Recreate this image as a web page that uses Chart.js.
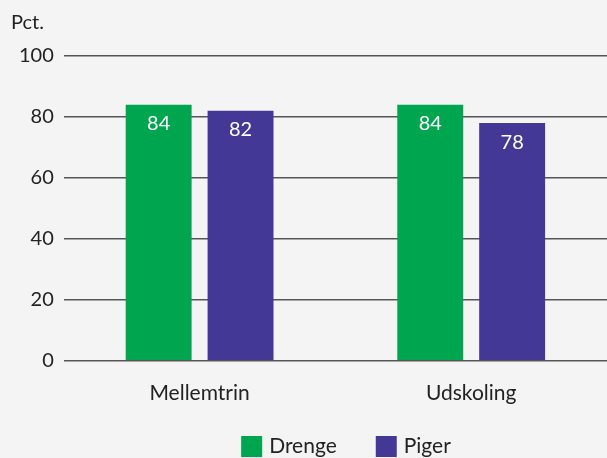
<!DOCTYPE html>
<html>
<head>
<meta charset="utf-8">
<script src="https://cdn.jsdelivr.net/npm/chart.js@4"></script>
<style>
  html, body { margin: 0; padding: 0; background: #f4f4f4; }
  #wrap { width: 607px; height: 458px; }
</style>
</head>
<body>
<div id="wrap"><canvas id="graf"></canvas></div>
<script>
const kategorier = ["Mellemtrin", "Udskoling"];
const drenge = [84, 84];
const piger = [82, 78];
const yTicks = [0, 20, 40, 60, 80, 100];

// labels inde i toppen af søjlerne, "Pct." oppe i hjørnet og signaturforklaring forneden
const etiketter = {
    id: "etiketter",
    afterDatasetsDraw(chart) {
        const c = chart.ctx;
        c.save();
        c.font = "20px Lato";
        c.fillStyle = "#ffffff";
        c.textAlign = "center";
        c.textBaseline = "middle";
        chart.data.datasets.forEach((ds, i) => {
            chart.getDatasetMeta(i).data.forEach((bar, j) => {
                c.fillText(ds.data[j], bar.x, bar.y + 19);
            });
        });
        c.fillStyle = "#222222";
        c.textAlign = "left";
        c.fillText("Pct.", 11, 23);

        // legend
        c.font = "21px Lato";
        const gap = 39, boks = 21;
        let bredde = 0;
        chart.data.datasets.forEach((ds, i) => {
            bredde += boks + 7 + c.measureText(ds.label).width + (i > 0 ? gap : 0);
        });
        let x = 346 - bredde / 2;
        const y = chart.height - 22;
        chart.data.datasets.forEach(ds => {
            c.fillStyle = ds.backgroundColor;
            c.fillRect(x, y, boks, boks);
            c.fillStyle = "#222222";
            c.fillText(ds.label, x + boks + 7, y + boks / 2);
            x += boks + 7 + c.measureText(ds.label).width + gap;
        });
        c.restore();
    }
};

const ctx = document.getElementById("graf").getContext("2d");
const graf = new Chart(ctx, {
    type: "bar",
    data: {
        labels: kategorier,
        datasets: [{
            label: "Drenge",
            data: drenge,
            backgroundColor: "#00a54f",
            categoryPercentage: 0.603,
            barPercentage: 0.805
        }, {
            label: "Piger",
            data: piger,
            backgroundColor: "#433895",
            categoryPercentage: 0.603,
            barPercentage: 0.805
        }]
    },
    options: {
        responsive: true,
        maintainAspectRatio: false,
        animation: false,
        layout: { padding: { top: 56, right: 0, left: 9, bottom: 40 } },
        plugins: {
            tooltip: { enabled: false },
            legend: { display: false }
        },
        scales: {
            x: {
                grid: { display: false },
                border: { display: false },
                ticks: { font: { family: "Lato", size: 21 }, color: "#222222", padding: 12 }
            },
            y: {
                min: 0,
                max: 100,
                afterBuildTicks(axis) {
                    axis.ticks = yTicks.map(v => ({ value: v }));
                },
                grid: { color: "#555555", lineWidth: 1.5, drawTicks: false },
                border: { display: false },
                ticks: { font: { family: "Lato", size: 20 }, color: "#222222", padding: 10 }
            }
        }
    },
    plugins: [etiketter]
});
</script>
</body>
</html>
